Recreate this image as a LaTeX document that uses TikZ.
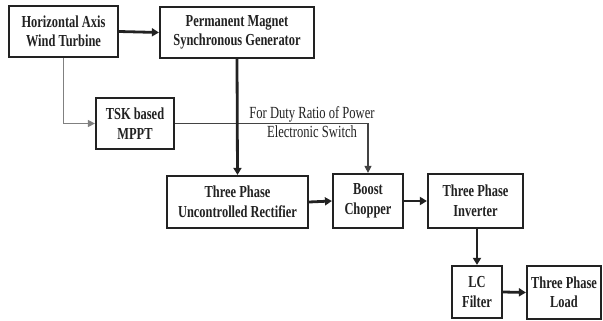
\documentclass[tikz,border=0pt]{standalone}
\usepackage{fontspec}
\setmainfont{Liberation Serif}[FakeStretch=0.74]
\usetikzlibrary{arrows.meta}
\definecolor{ink}{HTML}{222222}
\tikzset{
  blk/.style={draw=ink, line width=2.2pt, inner sep=0pt, align=center,
    font=\fontsize{16.8}{19.5}\selectfont\bfseries, text=ink},
  thickarrow/.style={draw=ink, line width=2.8pt, -{Triangle[length=7pt,width=8pt]}},
  thinarrow/.style={draw=#1, line width=1.1pt, -{Triangle[length=7pt,width=7pt]}},
  lbl/.style={align=center, inner sep=0pt, text=ink,
    font=\fontsize{17}{19}\selectfont}
}
\begin{document}
\begin{tikzpicture}[x=1pt,y=-1pt]
\useasboundingbox (0,0) rectangle (603,321);
\fill[white] (0,0) rectangle (603,321);
\node[blk, minimum width=109pt, minimum height=51pt] (hawt) at (63.5,31.5) {Horizontal Axis\\Wind Turbine};
\node[blk, minimum width=154pt, minimum height=51pt] (pmsg) at (237,32.5) {Permanent Magnet\\Synchronous Generator};
\node[blk, minimum width=78pt, minimum height=51pt] (tsk) at (135,123.5) {TSK based\\MPPT};
\node[blk, minimum width=141pt, minimum height=52pt] (rect) at (237.5,202) {Three Phase\\Uncontrolled Rectifier};
\node[blk, minimum width=70pt, minimum height=54pt] (boost) at (368,201) {Boost\\Chopper};
\node[blk, minimum width=95pt, minimum height=54pt] (inv) at (475.5,201) {Three Phase\\Inverter};
\node[blk, minimum width=50pt, minimum height=52pt] (lc) at (477,292) {LC\\Filter};
\node[blk, minimum width=74pt, minimum height=53pt] (load) at (564,292.5) {Three Phase\\Load};
\node[lbl] (duty) at (312,122.5) {For Duty Ratio of Power\\Electronic Switch};
\draw[thickarrow] (hawt.east) -- (pmsg.west);
\draw[thinarrow={gray}] (hawt.south) |- (tsk.west);
\draw[thinarrow={ink!85}] (tsk.east) -| (boost.north);
\draw[thickarrow] (pmsg.south) -- (rect.north);
\draw[thickarrow] (rect.east) -- (boost.west);
\draw[thickarrow] (boost.east) -- (inv.west);
\draw[thickarrow] (lc.north |- inv.south) -- (lc.north);
\draw[thickarrow] (lc.east) -- (load.west);
\end{tikzpicture}
\end{document}
